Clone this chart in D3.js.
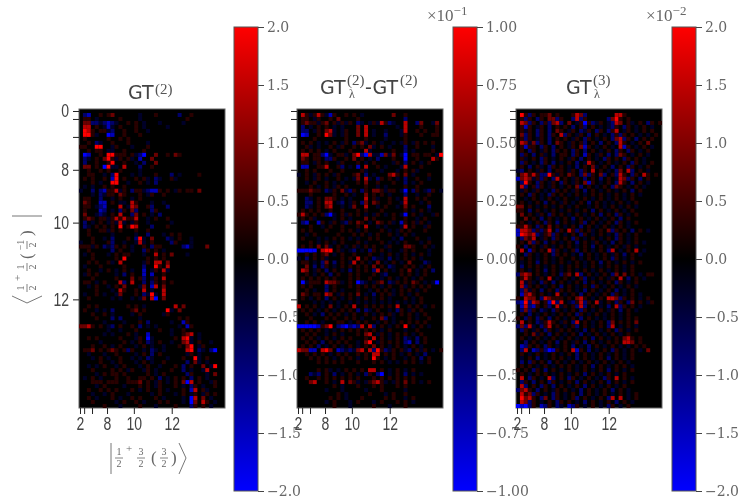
<!DOCTYPE html>
<html lang="en">
	<head>
		<meta charset="utf-8">
		<title>GT heatmaps</title>
		<script src="https://cdn.jsdelivr.net/npm/d3@7"></script>
		<style>
			html, body { margin: 0; padding: 0; background: #fff; }
			svg { display: block; filter: blur(0.65px); }
			.tick text { font-family: "Liberation Sans", sans-serif; }
			.cbar .tick text { font-family: "DejaVu Serif", serif; }
		</style>
	</head>
	<body>
		<script>
			// cell strengths on a coarse grid
			// . = 0, a b c d = rising positive, w x y z = rising negative, as a share of the panel maximum
			var levels = {".": 0, a: 0.16, b: 0.42, c: 0.72, d: 1, w: -0.16, x: -0.42, y: -0.72, z: -1};

			var gt2Rows = [
				"",
				".xy..a.ab......w...a.....x..a",
				".aa.w.....a....w...........a",
				".bbxxwxyxw..a.a.w...w.....w",
				".cc.a.wyw.a...a.w.....w",
				".dca.aawx..a..a..w",
				".ddaw..zy..a...a",
				".a.....a..a.a",
				"..a.xw..a...a....w",
				"aa..dd..wa...w...a",
				"..a.aa.ww..a....a",
				".zy..a.ddaaa.awxz..b..a.ba",
				".xw.a.bdawa.aw.y..b",
				".x..a..ad..a..w.x..b",
				".bb.a.zdww.c...x..a",
				"..a..a.a..a....w",
				"..aa..w.xd...w.w...a...x.w....a",
				".a.a..a.yd.a..a.aw.xw..aw",
				"...a.w..dd..w..a.w.x",
				".w.w..a.a..a",
				"w..x.xyaacwa.xaawxyya.a.wa.aa.b",
				"...w.xwaa.ba...a.wa..a",
				".aa..x..w.a..w.a",
				".ba..yy.a.ww.ca...w..w",
				".aa.wxy...c.wcb..ax...x",
				".a...yx.w.xa.bx...xa",
				".b..wxw.a.c..xb.a.w.x",
				".aba.aawacacaac..w.a..a",
				".x.w.a.wawcw.wa..w.....w",
				".xw.a.a.a.d.adc...x...a",
				"..a..aawa.a...a..a",
				"..a.....w.....w..x...w.a.a",
				"...a..w.x...a.xdw.b...xw.a..w",
				"w..a...ax..w..wcw.a....xa...w",
				"aaawa.xwxa.a.w..a.xaa.....xyw...b",
				"..a.....x.a..w..xa.a.w",
				".w.a...w.a.aa...w..c.a.b...w",
				"...a.....a.d.....a.a.a",
				"..a.a..aw.c.....wa.cc.b",
				".w...a.....a....x..da.c",
				"..a..w.a.w.a.w..y.wa.cw",
				".wa.a....w.x.a..y.y..a",
				"...a.....a...b.ax.wa.c",
				".aa.w.a...cx.c..x.xa.a.a",
				"..w.a..w.a.b...wb.yc.b",
				"....a...w.ca..a.c.w..c",
				".w..a.w..wb...a.xwdw.c",
				"..a.....w.w..w.wb.cz.b",
				"",
				"..a.a.......a.a.w.......c.b",
				".a..w.w.x....ab.a.....dw.b",
				"...a..a.w....w.a.....wa",
				"....a...x.x....w.........a.a",
				"......w....w...a.x.....w..ya",
				"bbca.a.wx.a..a.x.w.w.....w.ya",
				".......w..w...a.....a..w..a",
				"......w.w...a.w..y.....w..abc.w",
				"..a.a.....a...wa.zw.....a.cdw.w",
				".....w.....a.w.a.xw.a..w..bcw.a..w",
				"...a..a.w.a...w.a.w..w...a.bd.wa",
				".aab.a.aba.axa..w.xw.w.....cd.xw.xz",
				"..w...w..a....w.a.x.a......wa.w",
				"...w.a.w..a..w.w.xw...w...a..dw.a",
				".....a..w.a...w.a.w..a.....x.bw.w",
				"..w.w.a..w.a...w.a..w...a.x.a..b.wd",
				"...a....a.a.wa..wa.w...a..x.w..wc",
				"....w.a.aa.a.....a.w.a.....xa...w.b",
				".w.a.w...a..a..aa.a.x.w.a.a.x.a.w",
				"...aaa.aaa..aaab.a.wa.w.a.bzc.a..wa",
				"....w.a....w...a.a.wa...a.w.xa.w..a",
				"..a..a.a.a...a.w.a..a.w...a.yc.aw",
				"...w..w.a...w.....w.a...w.a.wa.wa.a",
				"..a.w...a.w..a.a...a.w....w.zc.b.w",
				"...a.....w.a..a.w...a.a...w.zb.ca.w",
				"......a...w....a...w....a...xa.a.w"
			];

			var diffRows = [
				"",
				".cawacawya..a.a.w.......b..a",
				".aa.wa..a.b....a...........x",
				".abaawab.awawa.xw.wawcaxw..c..xb..wb",
				".x.w.a.a.w.w...b.c.......w.c...a...a",
				".xx.wa.bcw.wa..b.c.w..w...wc..a.a..a",
				".zy..a.dbw.wa..b.c.w..x...wa...a..aa",
				"....a.......a....a....w....a",
				".a.a.w.w.a.wa.xabw.a.w..w.wa.wa.a.a",
				"..aw.w..a.wa..a.a.bw.a.w...x..a...w",
				".a.a.a.w.a...a...cw.....a..x.w....a",
				".cc.aaxzw.aaw.bdxzcwwybwb.wz.aa.aa.wd",
				".ba.aa.xxa..a.b.a.w.x...a..z..a...ca",
				".aa.wa.a..wa...a.w.a....wa.x.a.w.a",
				".yy..aac..ax.w.y.c..a.w...wc...a",
				"..a.a...a..a....aw...w...w.a.aw",
				"w.a.wa.a.wa...ab.x.w...bca.b.w...a",
				"..a.wa.w..a.w.wb.cw.xa.a.w.x..a..w",
				"..w.a..a.w.w...a.b..a...a..x.w.a",
				"...a.w.a.wa.a....a..w.w....a..a",
				"aaabaa.xwa.bwxa.xa.bbawaa.wz.xa.wxa.w",
				"...a.....a..a.w..b.a.a.w...x..w..a",
				"..xw.a.bba.w.w...c.aw..a.w.c..a.a",
				"..xx.a.cc.wx.wa.xb.ba..a..wc...w.a",
				"..xw.a.bc..w.wb..c..w.a..w.b.a...x",
				".a.a.a..a..a...a.a...a.....a.w.a.w",
				"aca.a.axzw.awa.a.w.wa.w.a.wz.a.w..wa",
				".a.aw....w.a.w...b.a....a..a..w.a",
				".xy..ya.wa.wxa.ba.w.ba.aw.ya.awa.w",
				"...a..w.a..a...a.c..w.w...wc.a..wa",
				".a.a...a...a.a.w.a...a.w.wa.a...a",
				"..w.a.....a...a.a.w.a..a.w.a.w",
				".a...w.w.a.a.w.w..a.a...w.x...a..w",
				"...a.w.a.w.a...a.w...a.w.w.a...w.a",
				".a.a.b.bw.a.w.aw.a.a..wa...bba..a.w",
				"zzzzz.cdd.aw.wx.w.xa.a.w..wa.a...w",
				"..a.a.ab.w.a..a...a..w.a.w.a.w.a.w",
				"w.x.a.aw...a.a.c.a.xww.x.w.a.a.w",
				".aa.w.xb.x.a.wc.a.w.b.w.a.w.b...xw",
				"..b.x.xa.w.a.a.a.a.b.a.xw..a.a.w.a",
				".cb.wa.x.a.w.x.a.a.xc.a.w.a.b.w.a.x",
				"..a.w.a.x.a..a.a...a.wx...a.a.w.a",
				".a.a.a.a.a...a.a..a..w.a.w.a.w.a",
				".zwaaa.cbbaw.a.zxw.wab.xwa.a.ba.w.wz",
				".a.a...x.a...a.a.a.a.w.a..aw.a.a.a",
				"..a.w..x.a.w...a..w.a.a.w.a.a.w.a",
				".ba.aa.cb.wa.a.b.w.x.a.aw.a.w.a",
				".a.w.a.x.a.w.a.w.a.w.a.w...a.w.a",
				"....w.w.w.w..w.w.w.w.w.w.w.w.w.a",
				"c.a.a.w.b.w.a.c..a.a.a.a.c..a.a.w.a",
				".a.a.w.a.w.a.a.x.xw.a..w.xa.wa.a",
				"..a.w.x.a.a.w.a..a.w.a.aw.a.a.w.a",
				"...a...a.a..a.a.w..a.bx.w...a.w..a",
				"..a.a.w...aa.w.a.a..w.a.w.a.a.a.a",
				"zzzzzyabd.xyzxyxc.cx.a.w.a.d.w.a.w",
				".a.a.a.w.w.a.a.a.a.a.w.a...w..a",
				"..a.a..w.a.w...a.bc.wa.w.a.a.w.a",
				".a.a.w.a.w.a.a...a.c.a.w.a.xw.x.a",
				"..a.a.x.a.a.a..w.bd.wa.a.a.xy.x.a",
				".a.a.x.w.a.w.a.w.a.b.a.w.a.w.a.w",
				"cbbyy.cdb.yxwxwbc.cxdaxwa.awx.awa.w.a",
				"..a.a.a.w.a.a..a.a.cc.a.a.w.a.w.x",
				"...a.a.a.w.a.a.w.a.da.w.a..w.a.x.a",
				".....a.a.a.a...a...a.a.w.w.a.a.w.a",
				"",
				".....a.aw.w.a.a.a.cc.a.w.a.w.a",
				"...xwx.a.x.w.a.w.xa.xz.w.a.x.w.w",
				"..a..a.a.a.a.a.a...a.a.a.a.a.a",
				"...bc..a.w.c.baw.wabcaw.wa.b.a.w.a",
				".........a.w...a...a.a...a.a",
				".......w...w.....w...a.....w",
				"..........a.w.....a...w.a..a",
				"........a.a.w...a.....a.a..w.a",
				".......w.a...w.a...w.a...a.a.w",
				".........a...w.....a...w...a"
			];

			var gt3Rows = [
				"",
				".daxa.aab.a...acbx.......cca",
				".axa.xa.bbxa..xcxa.....xbda.a",
				".cbxa.xaxbcx.b.wazaxwa.wxcb.aw.a.xa.a",
				".aya.wa.x.a.a.x.ax.a.w.wxa.xa.w.a.w",
				".awa.xa.x.ba.wa.xwa.xa.xac.wa.w.a.a",
				".bxa.xa.xa.cxa.wa.x.a.w.xaxa.a.w.w.a",
				".axa.wa.x.a.a.wa.xa.w.a.xbcxa.x.a.a",
				".cbwbxa.x.ba.wa.ax.a.x.a.xca.w.a.b",
				".ayaa.xa.x.a.wa.bya.w.a.w.cya.w.a.w",
				".a.xa.wa.xa.a.xa.x.a.w.a.xa.xa.w.a",
				".xa.x.aw.x.aa.xa.ya.wa.x.xba.w.a.w",
				".aw.a.xa.w.a.wa.x.a.w.xa.a.xa.a.w",
				".xa.w.xa.x.w.a.x.wca.w.a.w.a.xa.w.a",
				".a.x.aw.xa.a.w.x.a.bw.a.x.a.xa.w.a",
				"wx.a.wa.x.aa.wa.xa.c.a.w.xb.cx.a.w",
				".bcacaxxdawa.ba.xbxa.bx.axca.xa.ca.a",
				"ybcbwaxa.xc.a.wa.x.a.x.a.wcbxa.x.a",
				".xda.xa.wa.xa.wa.bya.w.a.xca.x.a.w",
				".cx.axa.wa.w.a.bx.a.w.a.xba.w.a.w",
				".wa.wa.w.xa.a.wa.x.a.w.a.w.a.x.a",
				".a.xa.w.xa.a.w.a.w.a.a.w.a.w.a.w",
				"..w.a.w.a.w.a..w.a.w.a.w.a.w.a",
				".a.w.a.x.a.wa.w.a.x.a.w.w.a.w.a",
				"bb.a.w.a.w.a.w.a..w.a.w.a.w.a.w",
				"aa.x.a.w.a.w.a.w.a.x.a.w.a.w.a",
				".b.a.wa.xa.a.w.a.w.a.x.a.xa.w.a",
				"..b.a.x.a.w.a.x.a.w.a.w.a.x.a",
				".a.w.a.xa.x.a.w.ax.a.w.a.xa.w.a",
				"aaca.xa.b.a.w.a.x.a.w.a.w.a.w",
				"yccbxaxac.xa.caxa.aw.a.bxa.a.x.a.w",
				"ydcbcxwabxa.w.a.xa.w.a.w.xa.w.a",
				".xbac.wa.xa.a.xa.w.a.w.a.xa.w.a",
				".a.bxa.x.a.w.a.x.a.wa.w.x.a.w.a.w",
				"a.x.a.wa.w.a.a.w.a.x.a.w.a.wa.w",
				".c.ya.a.cxa.w.ax.a.w.a.xc.w.a.c.w",
				"..xa.w.a.xa.a.w.x.a.w.a.wa.x.a.w",
				".a.a.w.a.w.a..a.w.a.w.a.xa.w.a",
				".w.a.x.a.w.a.w.a.w.a.x.a.w.a.w.a",
				".x.a.a.w.a.w.a.a.w.a.w.a.a.w.a",
				".a.w.a.x.a.w.a.w.a.w.a.w.a.w.a",
				"xbcb.a.w.a.xab.cx.a.w.a.xb.b.a.w.aa",
				".aca.wa.c.w.a.w.ax.w.a.wa.c.x.a.w",
				".cwaw.xa.x.a.w.a.x.a.w.a.xa.w.a",
				".cxa.a.w.a.x.a.w.a.xa.w.a.w.a.w",
				".xbwa.x.a.xa.a.w.x.a.w.a.x.w.a",
				".ybca.a.w.c.w.a.x.a.w.a.xa.w.a.w",
				"a.cbb.xcbaaa.a.bca.w.a.ccbxa.a.w.a",
				"xydxcb.aydxc.wxacxa.cw.a.xa.xb.a.wa",
				".ycxya.ax.cwa.axcx.a.w.x.cxa.a.w",
				".xbxa.xw.xa.w.a.xa.w.a.wa.x.a.w",
				".a.x.w.a.w.a.a.xa.w.a.w.a.w.a",
				"a.xa.xa.x.a.w.a.x.a.w.w.a.w.a.a",
				".c.a.xwaca.wa.xc.a.w.a.xb.a.a.b",
				"xbxcw.xac.a.w.ax.a.w.a.xc.w.a.w",
				".xa.wa.xa.wa.a.w.x.a.w.a.xa.w.a",
				"..a.bwa.x.a.w.a.x.w.a.w.a.w.a",
				".a.w.a.w.a.w.a.w.a.x.a.w.a.bca.a",
				"..x.a.w.a.x.a.wa.x.a.w.a.a.ccb.a",
				".yxa.a.xa.w.a.x.w.x.a.w.a.w.w.a.a",
				".xc.yxaxzya.a.cya.x.w.a.xa.w.a.w.b",
				".a.w.a.w.a.w.a.x.a.w.a.w.a.w.a",
				".w.a.x.w.a.a.w.x.a.w.a.x.a.w.a",
				".x.xa.a.x.a.w.a.w.a.w.a.w.a.w",
				".a.a.w.a.w.a.a.w.a.x.a.w.a.a.w",
				"a.a.xa.x.a.w.a.w.a.w.a.x.a.w.a",
				".a.w.a.a.w.a.w.a.x.a.w.a.w.a",
				".c.xa.w.cx.a.xa.w.a.w.xa.c.a.w",
				".xa.x.a.xa.w.a.x.a.w.a.x.a.w.a",
				".cx.a.xa.x.a.w.a.x.a.w.a.w.a",
				"xbca.x.a.wa.a.w.x.a.w.a.x.a.w",
				".cabxa.w.xa.w.a.x.a.w.a.w.a.w.a",
				".dbca.xb.xa.w.ax.a.w.a.xc.c.w.a",
				".cbxa.w.a.xa.a.w.x.a.w.a.x.a.w",
				"zyzxa.yxa.xw.yxa.w.a.w.xa.w.a"
			];

			// tick positions in cell units, shared by the three panels
			var xTickCells = [0.25, 1.3, 3.3, 7.1, 13.9, 23.5];
			var xTickLabels = ["2", "", "", "8", "10", "12"];
			var yTickCells = [0.5, 2.5, 7, 15.25, 28.5, 47.75];
			var yTickLabels = ["0", "", "", "8", "10", "12"];

			var cbarTicks2 = [-2, -1.5, -1, -0.5, 0, 0.5, 1, 1.5, 2];
			var cbarTicks1 = [-1, -0.75, -0.5, -0.25, 0, 0.25, 0.5, 0.75, 1];

			var nCols = 37, nRows = 75;
			var w = 743, h = 499;
			var panelW = 146, panelH = 299, panelTop = 109;
			var barW = 24, barTop = 27, barH = 464;

			var svg = d3.select("body").append("svg")
				.attr("width", w)
				.attr("height", h);

			var defs = svg.append("defs");
			var grad = defs.append("linearGradient")
				.attr("id", "bkr")
				.attr("x1", 0).attr("x2", 0).attr("y1", 1).attr("y2", 0);
			grad.append("stop").attr("offset", "0%").attr("stop-color", "#0000ff");
			grad.append("stop").attr("offset", "50%").attr("stop-color", "#000000");
			grad.append("stop").attr("offset", "100%").attr("stop-color", "#ff0000");

			var color = d3.scaleLinear()
				.domain([-1, 0, 1])
				.range(["#0000ff", "#000000", "#ff0000"]);

			var xScale = d3.scaleLinear().domain([0, nCols]).range([0, panelW]);
			var yScale = d3.scaleLinear().domain([0, nRows]).range([0, panelH]);

			function drawPanel(left, rows, showY) {
				var g = svg.append("g")
					.attr("transform", "translate(" + left + "," + panelTop + ")");

				g.append("rect")
					.attr("width", panelW)
					.attr("height", panelH)
					.attr("fill", "#000")
					.attr("stroke", "#666")
					.attr("stroke-width", 1);

				var cells = [];
				rows.forEach(function(row, r) {
					row.split("").forEach(function(ch, c) {
						if (levels[ch] && c < nCols) cells.push({r: r, c: c, v: levels[ch]});
					});
				});

				g.selectAll("rect.cell")
					.data(cells)
					.enter()
					.append("rect")
					.attr("class", "cell")
					.attr("x", function(d) { return xScale(d.c); })
					.attr("y", function(d) { return yScale(d.r); })
					.attr("width", xScale(1))
					.attr("height", yScale(1))
					.attr("fill", function(d) { return color(d.v); });

				var xAxis = d3.axisBottom(xScale)
					.tickValues(xTickCells)
					.tickSize(6)
					.tickPadding(3)
					.tickFormat(function(d, i) { return xTickLabels[i]; });
				var yAxis = d3.axisLeft(yScale)
					.tickValues(yTickCells)
					.tickSize(6)
					.tickPadding(4)
					.tickFormat(function(d, i) { return showY ? yTickLabels[i] : ""; });

				var ax = g.append("g")
					.attr("transform", "translate(0," + panelH + ")")
					.call(xAxis);
				var ay = g.append("g").call(yAxis);

				[ax, ay].forEach(function(a) {
					a.select(".domain").remove();
					a.selectAll("line").attr("stroke", "#222").attr("stroke-width", 1);
					a.selectAll("text")
						.attr("font-size", 18)
						.attr("fill", "#444")
						.each(function() {
							// the reference digits are narrow, squeeze them
							var s = d3.select(this);
							if (s.text()) s.attr("textLength", 7.8 * s.text().length).attr("lengthAdjust", "spacingAndGlyphs");
						});
				});
			}

			function drawBar(left, ticks, vmax, digits, offsetLabel) {
				var barScale = d3.scaleLinear().domain([-vmax, vmax]).range([barH, 0]);
				var g = svg.append("g")
					.attr("class", "cbar")
					.attr("transform", "translate(" + left + "," + barTop + ")");

				g.append("rect")
					.attr("width", barW)
					.attr("height", barH)
					.attr("fill", "url(#bkr)")
					.attr("stroke", "#555")
					.attr("stroke-width", 1);

				var axis = d3.axisRight(barScale)
					.tickValues(ticks)
					.tickSize(6)
					.tickPadding(3)
					.tickFormat(function(d) {
						return (d < 0 ? "\u2212" : "") + Math.abs(d).toFixed(digits);
					});

				var a = g.append("g")
					.attr("transform", "translate(" + barW + ",0)")
					.call(axis);
				a.select(".domain").remove();
				a.selectAll("line").attr("stroke", "#444");
				a.selectAll("text").attr("font-size", 14).attr("fill", "#666");

				if (offsetLabel) {
					var t = svg.append("text")
						.attr("x", left - 26)
						.attr("y", 21)
						.attr("font-family", "Liberation Serif, serif")
						.attr("font-size", 17)
						.attr("fill", "#666");
					t.append("tspan").text("\u00d710");
					t.append("tspan").attr("dy", -6).attr("font-size", 13).text(offsetLabel);
				}
			}

			function gtText(x, y, s) {
				svg.append("text")
					.attr("x", x).attr("y", y)
					.attr("font-family", "DejaVu Sans, sans-serif")
					.attr("font-size", 19)
					.attr("fill", "#444")
					.text(s);
			}
			function smallText(x, y, s, size) {
				svg.append("text")
					.attr("x", x).attr("y", y)
					.attr("font-family", "Liberation Serif, serif")
					.attr("font-size", size || 15)
					.attr("fill", "#555")
					.text(s);
			}

			// fractions and brackets for the state labels
			function frac(g, x, top, bottom) {
				g.append("text").attr("x", x).attr("y", -3).attr("text-anchor", "middle").text(top);
				g.append("line").attr("x1", x - 4).attr("x2", x + 4).attr("y1", 0).attr("y2", 0)
					.attr("stroke", "#666").attr("stroke-width", 0.8);
				g.append("text").attr("x", x).attr("y", 9).attr("text-anchor", "middle").text(bottom);
			}
			function stateLabel(transform) {
				return svg.append("g")
					.attr("transform", transform)
					.attr("font-family", "Liberation Serif, serif")
					.attr("font-size", 10)
					.attr("fill", "#666");
			}

			drawPanel(79, gt2Rows, true);
			drawBar(234, cbarTicks2, 2, 1, null);
			drawPanel(297, diffRows, false);
			drawBar(453, cbarTicks1, 1, 2, "\u22121");
			drawPanel(516, gt3Rows, false);
			drawBar(672, cbarTicks2, 2, 1, "\u22122");

			// titles
			gtText(128, 99, "GT");
			smallText(155, 94, "(2)");

			gtText(320, 94, "GT");
			smallText(347, 85, "(2)");
			smallText(349, 98, "\u03bb", 12);
			gtText(365, 94, "-GT");
			smallText(400, 85, "(2)");

			gtText(566, 94, "GT");
			smallText(593, 85, "(3)");
			smallText(594, 98, "\u03bb", 12);

			// x label
			var xl = stateLabel("translate(0,458)");
			xl.append("path").attr("d", "M111,-15V16").attr("stroke", "#777").attr("fill", "none");
			frac(xl, 119, "1", "2");
			xl.append("text").attr("x", 126).attr("y", -6).attr("font-size", 11).text("+");
			frac(xl, 141, "3", "2");
			xl.append("text").attr("x", 151).attr("y", 5).attr("font-size", 17).text("(");
			frac(xl, 164, "3", "2");
			xl.append("text").attr("x", 171).attr("y", 5).attr("font-size", 17).text(")");
			xl.append("path").attr("d", "M179,-15L186,0L179,16").attr("stroke", "#777").attr("fill", "none");

			// y label
			var yl = stateLabel("translate(27,303) rotate(-90)");
			yl.append("path").attr("d", "M7,-15L0,0L7,15").attr("stroke", "#777").attr("fill", "none");
			frac(yl, 15, "1", "2");
			yl.append("text").attr("x", 22).attr("y", -6).attr("font-size", 11).text("+");
			frac(yl, 36, "1", "2");
			yl.append("text").attr("x", 44).attr("y", 5).attr("font-size", 17).text("(");
			frac(yl, 58, "\u22121", "2");
			yl.append("text").attr("x", 67).attr("y", 5).attr("font-size", 17).text(")");
			yl.append("path").attr("d", "M87,-15V15").attr("stroke", "#777").attr("fill", "none");
		</script>
	</body>
</html>
